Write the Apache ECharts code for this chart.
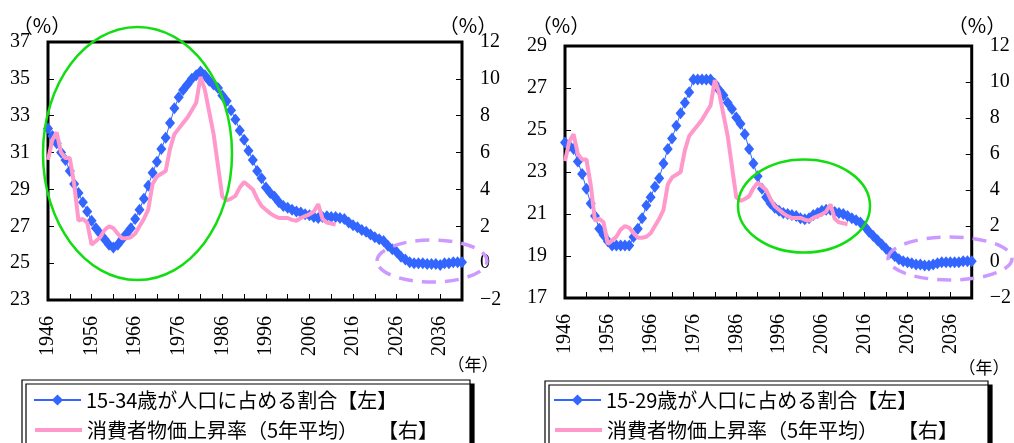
<!DOCTYPE html>
<html>
<head>
<meta charset="utf-8">
<script src="https://cdn.jsdelivr.net/npm/echarts@6/dist/echarts.min.js"></script>
<style>
html,body{margin:0;padding:0;background:#fff;}
#main{width:1014px;height:443px;}
</style>
</head>
<body>
<div id="main"></div>
<script>
// ---- data ----
const years = [];
for (let y = 1946; y <= 2041; y++) years.push(String(y));

const youthShare1534 = [
  32.3, 31.9, 31.5, 31.0, 30.6,
  30.0, 29.3, 28.8, 28.3, 27.8,
  27.3, 26.9, 26.6, 26.3, 26.0,
  25.85, 26.0, 26.3, 26.6, 26.9,
  27.4, 27.9, 28.5, 29.2, 29.9,
  30.5, 31.2, 31.8, 32.6, 33.4,
  34.0, 34.4, 34.7, 35.0, 35.2,
  35.4, 35.2, 34.9, 34.7, 34.5,
  34.1, 33.8, 33.3, 32.8, 32.2,
  31.7, 31.1, 30.6, 30.0, 29.6,
  29.1, 28.8, 28.6, 28.3, 28.1,
  28.0, 27.9, 27.8, 27.75, 27.65,
  27.6, 27.5, 27.45, 27.5, 27.55,
  27.5, 27.5, 27.45, 27.4, 27.2,
  27.05, 26.95, 26.8, 26.7, 26.55,
  26.4, 26.3, 26.2, 25.95, 25.75,
  25.6, 25.35, 25.2, 25.05, 25.0,
  25.0, 25.0, 24.95, 24.95, 24.95,
  24.9, 25.0, 25.0, 25.05, 25.05,
  25.05
];

const youthShare1529 = [
  24.4, 24.25, 24.1, 23.5, 22.9,
  22.2, 21.5, 20.9, 20.3, 20.0,
  19.7, 19.5, 19.5, 19.5, 19.5,
  19.5, 19.9, 20.3, 20.8, 21.4,
  21.8, 22.3, 22.7, 23.4, 24.1,
  24.6, 25.2, 25.8, 26.3, 26.8,
  27.4, 27.4, 27.4, 27.4, 27.4,
  27.2, 26.9, 26.65, 26.3, 26.0,
  25.6, 25.3, 24.8, 24.1, 23.4,
  22.8, 22.2, 21.8, 21.5, 21.3,
  21.15, 21.05, 21.0, 20.95, 20.9,
  20.8, 20.75, 20.8, 20.95, 21.05,
  21.15, 21.2, 21.2, 21.1, 21.05,
  21.0, 20.9, 20.8, 20.7, 20.6,
  20.4, 20.15, 19.95, 19.75, 19.55,
  19.35, 19.15, 19.0, 18.85, 18.75,
  18.7, 18.65, 18.6, 18.6, 18.55,
  18.55, 18.6, 18.65, 18.7, 18.7,
  18.7, 18.7, 18.7, 18.75, 18.75,
  18.75
];

const cpi5yAvg = [
  5.6, 6.7, 7.1, 6.0, 5.7,
  5.7, 4.3, 2.3, 2.4, 2.2,
  1.0, 1.2, 1.4, 1.8, 2.0,
  1.9, 1.6, 1.35, 1.35, 1.4,
  1.6, 2.0, 2.4, 2.9, 4.3,
  4.7, 4.85, 5.0, 6.2, 7.0,
  7.3, 7.6, 7.9, 8.3, 8.7,
  10.1, 9.4, 8.2, 7.0, 5.3,
  3.6, 3.4, 3.5, 3.65, 4.1,
  4.4, 4.2, 4.0, 3.5, 3.1,
  2.9, 2.7, 2.55, 2.45, 2.45,
  2.45, 2.35, 2.3, 2.45, 2.55,
  2.65, 2.8, 3.2, 2.4, 2.2,
  2.15, 2.1
];

const nameBlueL = '15-34歳が人口に占める割合【左】';
const nameBlueR = '15-29歳が人口に占める割合【左】';
const namePink = '消費者物価上昇率（5年平均）　　【右】';

// ---- styles ----
const BLUE = '#3366FF';
const PINK = '#FF99CC';
const numFont = 'Liberation Serif';
const cjkFont = 'Noto Sans CJK JP';
const minusFmt = v => (v < 0 ? '\u2212' + Math.abs(v) : String(v));

function xAxisCfg(gi) {
  return {
    type: 'category', gridIndex: gi, data: years, boundaryGap: false,
    axisLine: { show: false, onZero: false },
    axisTick: { show: true, inside: true, length: 6, interval: 4, lineStyle: { color: '#000', width: 1 } },
    axisLabel: { interval: 9, rotate: 90, margin: 16, fontFamily: numFont, fontSize: 20, color: '#000' },
    splitLine: { show: false }
  };
}
function yAxisCfg(gi, pos, min, max) {
  return {
    type: 'value', gridIndex: gi, position: pos, min: min, max: max, interval: 2,
    axisLine: { show: false, onZero: false },
    axisTick: { show: true, inside: true, length: 6, lineStyle: { color: '#000', width: 1 } },
    axisLabel: { margin: 18, fontFamily: numFont, fontSize: 20, color: '#000', formatter: minusFmt },
    splitLine: { show: false }
  };
}
function blueSeries(name, xi, yi, data) {
  return {
    name: name, type: 'line', xAxisIndex: xi, yAxisIndex: yi, data: data,
    symbol: 'diamond', symbolSize: [10, 12], showSymbol: true, showAllSymbol: true, clip: false,
    itemStyle: { color: BLUE }, lineStyle: { color: BLUE, width: 1 }, z: 3
  };
}
function pinkSeries(xi, yi) {
  return {
    name: namePink, type: 'line', xAxisIndex: xi, yAxisIndex: yi, data: cpi5yAvg,
    symbol: 'none', itemStyle: { color: PINK }, lineStyle: { color: PINK, width: 4 }, z: 4
  };
}
function legendCfg(left, top, item) {
  return {
    data: [item], orient: 'horizontal', left: left, top: top, padding: 0,
    itemWidth: 47, itemHeight: 14, selectedMode: false,
    textStyle: { fontFamily: cjkFont, fontSize: 20, color: '#000' }
  };
}
const pinkLegendItem = { name: namePink, itemStyle: { opacity: 0 }, lineStyle: { width: 4, color: PINK } };
function txt(x, y, s, size) {
  return { type: 'text', x: x, y: y, z: 50,
    style: { text: s, fontFamily: cjkFont, fontSize: size, fill: '#000', align: 'center', verticalAlign: 'middle' } };
}

const chart = echarts.init(document.getElementById('main'), null, { renderer: 'canvas' });
chart.setOption({
  animation: false,
  backgroundColor: '#fff',
  grid: [
    { left: 48, top: 42, width: 414, height: 258, show: true, borderColor: '#000', borderWidth: 3, backgroundColor: 'transparent' },
    { left: 565, top: 46, width: 410, height: 252, show: true, borderColor: '#000', borderWidth: 3, backgroundColor: 'transparent' }
  ],
  xAxis: [xAxisCfg(0), xAxisCfg(1)],
  yAxis: [
    yAxisCfg(0, 'left', 23, 37),
    yAxisCfg(0, 'right', -2, 12),
    yAxisCfg(1, 'left', 17, 29),
    yAxisCfg(1, 'right', -2, 12)
  ],
  legend: [
    legendCfg(33, 390, nameBlueL),
    legendCfg(33, 420, pinkLegendItem),
    legendCfg(553, 390, nameBlueR),
    legendCfg(553, 420, pinkLegendItem)
  ],
  series: [
    blueSeries(nameBlueL, 0, 0, youthShare1534),
    pinkSeries(0, 1),
    blueSeries(nameBlueR, 1, 2, youthShare1529),
    pinkSeries(1, 3)
  ],
  graphic: [
    // legend frames
    { type: 'rect', z: 0, shape: { x: 22, y: 380, width: 448, height: 90 },
      style: { fill: '#fff', stroke: '#000', lineWidth: 1.2, shadowBlur: 0, shadowOffsetX: 4, shadowOffsetY: 4, shadowColor: '#000' } },
    { type: 'rect', z: 0, shape: { x: 545, y: 381, width: 443, height: 90 },
      style: { fill: '#fff', stroke: '#000', lineWidth: 1.2, shadowBlur: 0, shadowOffsetX: 4, shadowOffsetY: 4, shadowColor: '#000' } },
    // annotation ellipses
    { type: 'ellipse', z: 60, shape: { cx: 137.5, cy: 153.5, rx: 94.5, ry: 126.5 },
      style: { fill: 'none', stroke: '#11DD11', lineWidth: 2.5 } },
    { type: 'ellipse', z: 60, shape: { cx: 432, cy: 261, rx: 55, ry: 21 },
      style: { fill: 'none', stroke: '#CC99FF', lineWidth: 3.5, lineDash: [14, 9] } },
    { type: 'ellipse', z: 60, shape: { cx: 804, cy: 206, rx: 66, ry: 46.5 },
      style: { fill: 'none', stroke: '#11DD11', lineWidth: 2.5 } },
    { type: 'ellipse', z: 60, shape: { cx: 950, cy: 258.5, rx: 62, ry: 21.5 },
      style: { fill: 'none', stroke: '#CC99FF', lineWidth: 3.5, lineDash: [14, 9] } },
    // axis unit labels
    txt(42, 25, '（%）', 20),
    txt(468, 25, '（%）', 20),
    txt(561, 25, '（%）', 20),
    txt(977, 25, '（%）', 20),
    txt(473, 365, '（年）', 17),
    txt(984, 368, '（年）', 17)
  ]
});
</script>
</body>
</html>
